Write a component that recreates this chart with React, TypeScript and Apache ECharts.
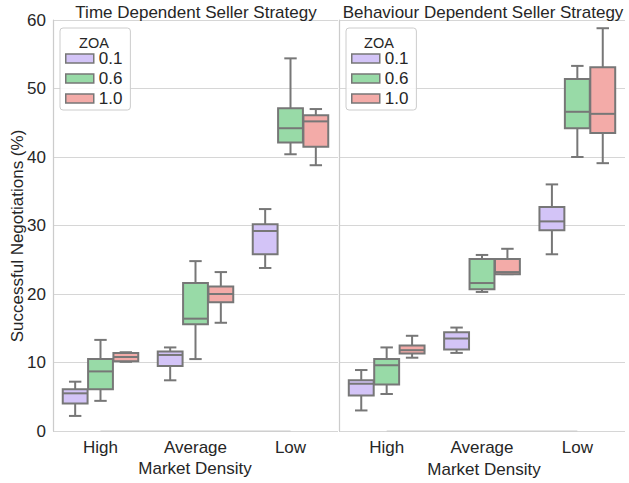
import React, { useEffect, useRef } from "react";
import * as echarts from "echarts";

// Categories and hue levels
const categories = ["High", "Average", "Low"];
const zoaLevels = ["0.1", "0.6", "1.0"];
const yTicks = [0, 10, 20, 30, 40, 50, 60];

// Box stats per category: [low whisker, Q1, median, Q3, high whisker]
// Time Dependent Seller Strategy
const timeZoa01 = [
  [2.2, 4.0, 5.5, 6.1, 7.2],
  [7.4, 9.5, 11.1, 11.6, 12.2],
  [23.8, 25.8, 29.2, 30.2, 32.4],
];
const timeZoa06 = [
  [4.4, 6.1, 8.7, 10.5, 13.3],
  [10.5, 15.6, 16.4, 21.6, 24.8],
  [40.4, 42.1, 44.2, 47.1, 54.4],
];
const timeZoa10 = [
  [10.1, 10.2, 10.8, 11.4, 11.5],
  [15.8, 18.8, 20.0, 21.1, 23.2],
  [38.8, 41.5, 45.2, 46.1, 47.0],
];
// Behaviour Dependent Seller Strategy
const behavZoa01 = [
  [3.0, 5.2, 6.9, 7.4, 8.9],
  [11.4, 11.9, 13.5, 14.4, 15.1],
  [25.8, 29.3, 30.6, 32.7, 36.0],
];
const behavZoa06 = [
  [5.4, 6.8, 9.6, 10.5, 12.2],
  [20.3, 20.7, 21.6, 25.1, 25.7],
  [40.0, 44.2, 46.6, 51.4, 53.3],
];
const behavZoa10 = [
  [10.7, 11.3, 11.8, 12.5, 13.9],
  [22.9, 22.9, 23.2, 25.1, 26.6],
  [39.1, 43.5, 46.3, 53.1, 58.8],
];

const panelTitles = ["Time Dependent Seller Strategy", "Behaviour Dependent Seller Strategy"];
const xAxisTitle = "Market Density";
const yAxisTitle = "Successful Negotiations (%)";
const legendTitle = "ZOA";

const fills = ["#d3c4f7", "#98daa7", "#f3aba8"];
const lineGray = "#777777";
const textColor = "#262626";
const gridColor = "#d6d6d6";
const FONT = "'Liberation Sans', Arial, sans-serif";

function makeRender(k: number, fill: string) {
  return (params: any, api: any) => {
    const xi = api.value(0);
    const band = api.size([1, 0])[0];
    const w = (band * 0.8) / 3;
    const boxW = w * 0.98;
    const cx = api.coord([xi, 0])[0] + (k - 1) * w;
    const yLow = api.coord([xi, api.value(1)])[1];
    const yQ1 = api.coord([xi, api.value(2)])[1];
    const yMed = api.coord([xi, api.value(3)])[1];
    const yQ3 = api.coord([xi, api.value(4)])[1];
    const yHigh = api.coord([xi, api.value(5)])[1];
    const half = boxW / 2;
    const cap = boxW / 4;
    const ls = { stroke: lineGray, lineWidth: 2 };
    return {
      type: "group",
      children: [
        { type: "line", shape: { x1: cx, y1: yLow, x2: cx, y2: yQ1 }, style: ls },
        { type: "line", shape: { x1: cx, y1: yQ3, x2: cx, y2: yHigh }, style: ls },
        { type: "line", shape: { x1: cx - cap, y1: yLow, x2: cx + cap, y2: yLow }, style: ls },
        { type: "line", shape: { x1: cx - cap, y1: yHigh, x2: cx + cap, y2: yHigh }, style: ls },
        {
          type: "rect",
          shape: { x: cx - half, y: yQ3, width: boxW, height: yQ1 - yQ3 },
          style: { fill, stroke: lineGray, lineWidth: 2 },
        },
        { type: "line", shape: { x1: cx - half, y1: yMed, x2: cx + half, y2: yMed }, style: ls },
      ],
    };
  };
}

function toData(stats: number[][]) {
  return stats.map((s, i) => [i, ...s]);
}

export default function App() {
  const ref = useRef<HTMLDivElement>(null);
  useEffect(() => {
    if (!ref.current) return;
    const chart = echarts.init(ref.current, undefined, { renderer: "svg" });
    const panels = [
      [timeZoa01, timeZoa06, timeZoa10],
      [behavZoa01, behavZoa06, behavZoa10],
    ];
    const series: any[] = [];
    panels.forEach((p, gi) => {
      p.forEach((stats, k) => {
        series.push({
          type: "custom",
          name: zoaLevels[k],
          xAxisIndex: gi,
          yAxisIndex: gi,
          data: toData(stats),
          encode: { x: 0, y: [1, 2, 3, 4, 5] },
          itemStyle: { color: fills[k], borderColor: lineGray, borderWidth: 1.5 },
          renderItem: makeRender(k, fills[k]),
          clip: false,
          z: 3,
        });
      });
      // trimmed bottom spine from first to last category
      series.push({
        type: "line",
        name: "spine" + gi,
        xAxisIndex: gi,
        yAxisIndex: gi,
        data: [
          [0, 0],
          [categories.length - 1, 0],
        ],
        symbol: "none",
        silent: true,
        clip: false,
        lineStyle: { color: "#cccccc", width: 1.25 },
        z: 1,
      });
    });

    const legendData = zoaLevels.map((n, i) => ({
      name: n,
      itemStyle: { color: fills[i], borderColor: lineGray, borderWidth: 1.5 },
    }));
    const legendBase = {
      orient: "vertical",
      top: 28,
      icon: "rect",
      itemWidth: 28,
      itemHeight: 9,
      itemGap: 3,
      padding: [22, 8, 3, 5],
      backgroundColor: "rgba(255,255,255,0.85)",
      borderColor: "#cccccc",
      borderWidth: 1,
      borderRadius: 3,
      textStyle: { fontSize: 17, lineHeight: 17, color: textColor, fontFamily: FONT },
      data: legendData,
      selectedMode: false,
      z: 10,
    };

    const yAxisCommon = {
      type: "value",
      min: 0,
      max: 60,
      interval: 10,
      axisTick: { show: false },
      axisLine: { show: true, lineStyle: { color: "#cccccc", width: 1.25 } },
      splitLine: { show: true, lineStyle: { color: gridColor, width: 1 } },
      axisLabel: {
        fontSize: 17,
        color: textColor,
        fontFamily: FONT,
        margin: 7,
        formatter: (v: number) => (yTicks.includes(v) ? String(v) : ""),
      },
    };
    const xAxisCommon = {
      type: "category",
      data: categories,
      boundaryGap: true,
      axisLine: { show: false },
      axisTick: { show: false },
      splitLine: { show: false },
      axisLabel: { fontSize: 17, color: textColor, fontFamily: FONT, margin: 8 },
    };

    const textStyle = (fs: number) => ({
      fill: textColor,
      font: `${fs}px ${FONT}`,
      align: "center",
      verticalAlign: "middle",
    });

    chart.setOption({
      animation: false,
      backgroundColor: "#ffffff",
      textStyle: { fontFamily: FONT },
      grid: [
        { left: 53, right: 291, top: 20, bottom: 52, containLabel: false },
        { left: 339, right: 4, top: 20, bottom: 52, containLabel: false },
      ],
      xAxis: [
        { ...xAxisCommon, gridIndex: 0 },
        { ...xAxisCommon, gridIndex: 1 },
      ],
      yAxis: [
        { ...yAxisCommon, gridIndex: 0 },
        { ...yAxisCommon, gridIndex: 1, axisLabel: { show: false } },
      ],
      legend: [
        { ...legendBase, left: 60 },
        { ...legendBase, left: 346 },
      ],
      graphic: [
        { type: "text", x: 196, y: 12, z: 100, style: { ...textStyle(17), text: panelTitles[0] } },
        { type: "text", x: 483, y: 12, z: 100, style: { ...textStyle(17), text: panelTitles[1] } },
        { type: "text", x: 195, y: 468, z: 100, style: { ...textStyle(17), text: xAxisTitle } },
        { type: "text", x: 484, y: 469, z: 100, style: { ...textStyle(17), text: xAxisTitle } },
        {
          type: "text",
          x: 17,
          y: 236,
          rotation: Math.PI / 2,
          z: 100,
          style: { ...textStyle(17), text: yAxisTitle },
        },
        { type: "text", x: 94, y: 43, z: 100, style: { ...textStyle(14.5), text: legendTitle } },
        { type: "text", x: 379, y: 43, z: 100, style: { ...textStyle(14.5), text: legendTitle } },
      ],
      series,
    });
    return () => chart.dispose();
  }, []);
  return (
    <div
      ref={ref}
      style={{ position: "fixed", left: 0, top: 0, width: 629, height: 483 }}
    />
  );
}
